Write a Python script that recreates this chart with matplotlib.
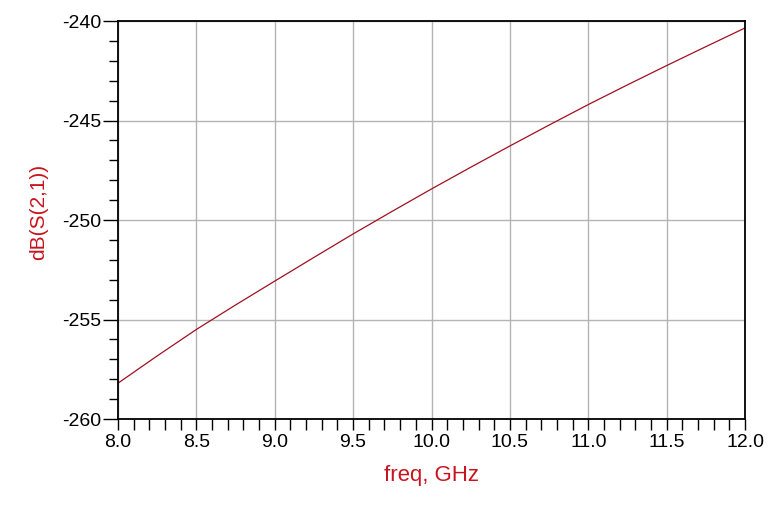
import matplotlib.pyplot as plt
import numpy as np

# Values
freq = [8.0, 8.25, 8.5, 8.75, 9.0, 9.25, 9.5, 9.75, 10.0,
        10.25, 10.5, 10.75, 11.0, 11.25, 11.5, 11.75, 12.0]
s21_db = [-258.2, -256.83, -255.5, -254.27, -253.07, -251.88, -250.7, -249.56, -248.44,
          -247.35, -246.28, -245.23, -244.2, -243.21, -242.24, -241.29, -240.35]

xticks = np.arange(8.0, 12.01, 0.5)
yticks = np.arange(-260, -239, 5)

plt.rcParams['font.family'] = ['Liberation Sans', 'DejaVu Sans']

fig = plt.figure(figsize=(7.83, 5.11), dpi=100)
ax = fig.add_axes([118 / 783, 1 - 419 / 511, 627 / 783, 398 / 511])

ax.plot(freq, s21_db, color="#a01020", linewidth=0.9)

ax.set_xlim(8.0, 12.0)
ax.set_ylim(-260, -240)
ax.set_xticks(xticks)
ax.set_xticklabels([f"{v:.1f}" for v in xticks])
ax.set_yticks(yticks)
ax.set_yticklabels([f"{v:d}" for v in yticks])
ax.set_xticks(np.arange(8.0, 12.01, 0.1), minor=True)
ax.set_yticks(np.arange(-260, -239, 1), minor=True)

ax.grid(True, which="major", color="#b4b4b4", linewidth=1)
ax.tick_params(axis="x", which="both", direction="out", length=8, width=1, labelsize=14, pad=3)
ax.tick_params(axis="y", which="major", direction="out", length=11, width=1, labelsize=14, pad=1)
ax.tick_params(axis="y", which="minor", direction="out", length=6.5, width=1)
for s in ax.spines.values():
    s.set_color("black")
    s.set_linewidth(1.3)

ax.set_xlabel("freq, GHz", fontsize=16, color="#c8141e", labelpad=10)
ax.set_ylabel("dB(S(2,1))", fontsize=15, color="#c8141e")
ax.yaxis.set_label_coords(-0.112, 0.52)

fig.savefig("out.png", dpi=100)
